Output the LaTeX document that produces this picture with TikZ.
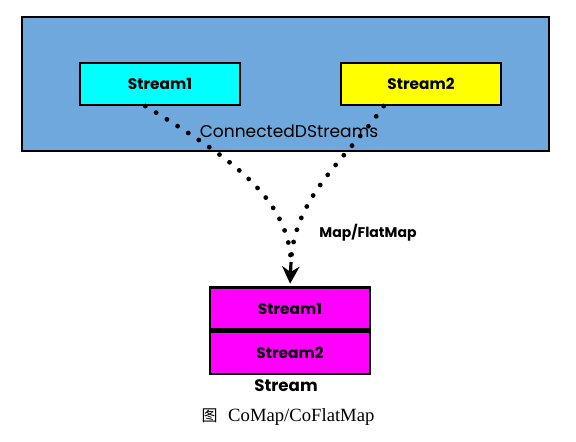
\documentclass[tikz,border=0pt]{standalone}
\usepackage{fontspec}
\setmainfont{Liberation Serif}
\setsansfont{Poppins}
\newfontfamily\cjk{Noto Sans CJK SC}
\usetikzlibrary{arrows.meta}
\definecolor{panelblue}{HTML}{6FA8DC}
\definecolor{pcyan}{HTML}{00FFFF}
\definecolor{pyellow}{HTML}{FFFF00}
\definecolor{pmagenta}{HTML}{FF00FF}
\tikzset{
  box/.style={draw=black, line width=1.6pt, minimum width=160*0.75pt, minimum height=42*0.75pt, font=\sffamily\fontsize{11.5}{13}\selectfont\bfseries, inner sep=0pt},
  dotline/.style={line width=3.6pt, line cap=round, dash pattern=on 0pt off 9.5pt},
  lbl/.style={font=\sffamily\fontsize{12.5}{14}\selectfont\bfseries}
}
\begin{document}
\begin{tikzpicture}[x=0.75pt,y=-0.75pt]
\useasboundingbox (0,0) rectangle (576,442);
\node[draw=black, line width=1.6pt, fill=panelblue, minimum width=527*0.75pt, minimum height=134*0.75pt, inner sep=0pt] (panel) at (285.5,84) {};
\node[box, fill=pcyan] (s1) at (160,84) {Stream1};
\node[box, fill=pyellow] (s2) at (421,84) {Stream2};
\node[box, fill=pmagenta] (m1) at (290,308.5) {Stream1};
\node[box, fill=pmagenta, anchor=north] (m2) at (m1.south) {Stream2};
\node[font=\sffamily\fontsize{12.8}{14}\selectfont] (cds) at (289,131) {ConnectedDStreams};
\node[font=\sffamily\fontsize{10.5}{12}\selectfont\bfseries] (mf) at (368,233) {Map/FlatMap};
\node[lbl] (st) at (286,386) {Stream};
\node (cap) at (288,417) {{\cjk\fontsize{12}{14}\selectfont 图}\hspace{0.8em}{\fontsize{14}{16}\selectfont CoMap/CoFlatMap}};
\coordinate (tip) at (291,262);
\draw[dotline] ([xshift=-11pt]s1.south) .. controls (225,155) and (288,195) .. (tip);
\draw[dotline] ([xshift=-28pt]s2.south) .. controls (350,155) and (294,195) .. (tip);
\draw[line width=2.4pt, -{Stealth[length=13pt,width=13pt]}, shorten >=2pt] (tip) -- (m1.north);
\end{tikzpicture}
\end{document}
